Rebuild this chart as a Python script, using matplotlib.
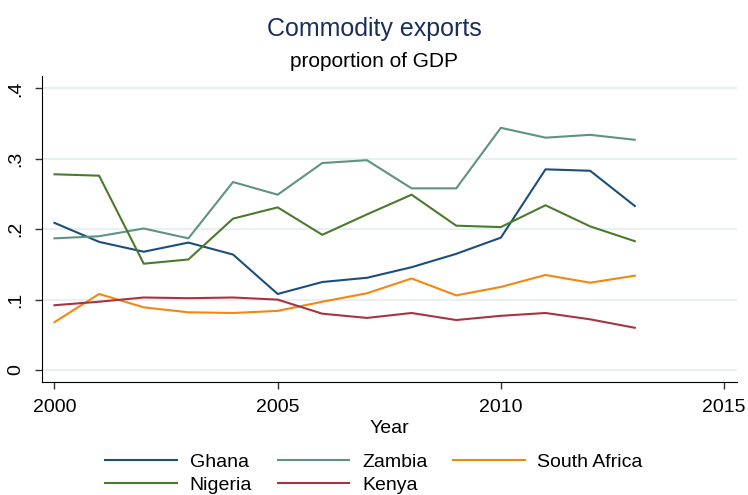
import matplotlib
matplotlib.use('Agg')
import matplotlib.pyplot as plt

years = list(range(2000, 2014))
ghana = [0.209, 0.182, 0.168, 0.181, 0.164, 0.108, 0.125, 0.131,
         0.146, 0.165, 0.188, 0.285, 0.283, 0.233]
zambia = [0.187, 0.190, 0.201, 0.187, 0.267, 0.249, 0.294, 0.298,
          0.258, 0.258, 0.344, 0.330, 0.334, 0.327]
south_africa = [0.068, 0.108, 0.089, 0.082, 0.081, 0.084, 0.097, 0.109,
                0.130, 0.106, 0.118, 0.135, 0.124, 0.134]
nigeria = [0.278, 0.276, 0.151, 0.157, 0.215, 0.231, 0.192, 0.221,
           0.249, 0.205, 0.203, 0.234, 0.204, 0.183]
kenya = [0.092, 0.097, 0.103, 0.102, 0.103, 0.100, 0.080, 0.074,
         0.081, 0.071, 0.077, 0.081, 0.072, 0.060]

yticks = [0, 0.1, 0.2, 0.3, 0.4]
ytick_labels = ['0', '.1', '.2', '.3', '.4']
xticks = [2000, 2005, 2010, 2015]


def main():
    plt.rcParams['font.family'] = ['Liberation Sans', 'DejaVu Sans']

    fig = plt.figure(figsize=(7.48, 4.95), dpi=100)
    ax = fig.add_axes([0.0561, 0.2283, 0.9292, 0.6182])

    series = {
        'Ghana': (ghana, '#1a4f7c'),
        'Zambia': (zambia, '#5f9283'),
        'South Africa': (south_africa, '#f5860f'),
        'Nigeria': (nigeria, '#4c7a2c'),
        'Kenya': (kenya, '#a8343f'),
    }
    lines = {}
    for name, (vals, color) in series.items():
        lines[name], = ax.plot(years, vals, color=color, linewidth=1.5, label=name)

    ax.set_xlim(1999.72, 2015.29)
    ax.set_ylim(-0.017, 0.4176)
    ax.set_yticks(yticks)
    ax.set_yticklabels(ytick_labels, rotation=90, va='center')
    ax.set_xticks(xticks)
    ax.grid(axis='y', color='#e8f0f1', linewidth=1.5)
    ax.set_axisbelow(True)

    for side in ['top', 'right']:
        ax.spines[side].set_visible(False)
    ax.tick_params(axis='both', labelsize=14, length=5, width=1, color='#333333')
    ax.tick_params(axis='x', pad=7)
    ax.tick_params(axis='y', pad=8)

    ax.set_xlabel('Year', fontsize=14, labelpad=3)

    fig.text(0.5, 0.942, 'Commodity exports', ha='center', va='center',
             fontsize=18, color='#1a2e5a')
    fig.text(0.5, 0.876, 'proportion of GDP', ha='center', va='center',
             fontsize=15)

    # column-major fill so rows read Ghana, Zambia, South Africa / Nigeria, Kenya
    order = ['Ghana', 'Nigeria', 'Zambia', 'Kenya', 'South Africa']
    fig.legend([lines[n] for n in order], order,
               loc='upper center', bbox_to_anchor=(0.5, 0.112), ncol=3,
               frameon=False, fontsize=14, handlelength=3.7,
               handletextpad=0.65, columnspacing=1.3, labelspacing=0.3,
               borderpad=0.2)

    fig.savefig('out.png', dpi=100)


if __name__ == '__main__':
    main()
